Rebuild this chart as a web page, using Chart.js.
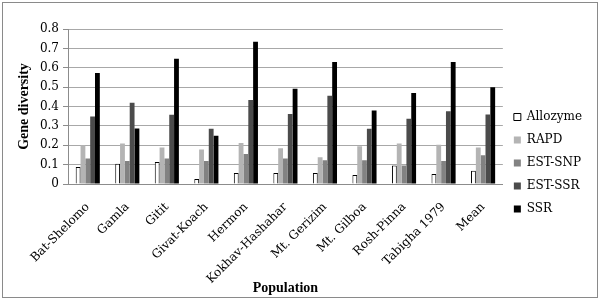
<!DOCTYPE html>
<html>
<head>
<meta charset="utf-8">
<script src="https://cdn.jsdelivr.net/npm/chart.js@4.4.1/dist/chart.umd.min.js"></script>
<style>
html,body{margin:0;padding:0;background:#fff;}
#wrap{position:absolute;left:0;top:0;width:600px;height:300px;}
#frame{position:absolute;left:2px;top:2px;width:594px;height:294px;border:1px solid #8a8a8a;pointer-events:none;}
</style>
</head>
<body>
<div id="wrap"><canvas id="c" width="600" height="300"></canvas></div>
<div id="frame"></div>
<script>
const categories = ["Bat-Shelomo","Gamla","Gitit","Givat-Koach","Hermon","Kokhav-Hashahar","Mt. Gerizim","Mt. Gilboa","Rosh-Pinna","Tabigha 1979","Mean"];
const allozyme = [0.088,0.104,0.114,0.026,0.057,0.057,0.057,0.047,0.095,0.052,0.069];
const rapd     = [0.200,0.209,0.188,0.178,0.212,0.185,0.138,0.195,0.209,0.202,0.188];
const estSnp   = [0.131,0.119,0.131,0.119,0.155,0.131,0.123,0.123,0.095,0.119,0.149];
const estSsr   = [0.349,0.420,0.357,0.285,0.434,0.361,0.456,0.285,0.337,0.375,0.359];
const ssr      = [0.573,0.287,0.646,0.249,0.734,0.492,0.630,0.380,0.470,0.630,0.499];
const yTickLabels = ["0","0.1","0.2","0.3","0.4","0.5","0.6","0.7","0.8"];

const tickFont = {family: "'DejaVu Serif', serif", size: 12};
const titleFont = {family: "'Liberation Serif', 'Times New Roman', serif", size: 14, weight: "bold"};

new Chart(document.getElementById("c"), {
  type: "bar",
  data: {
    labels: categories,
    datasets: [
      {label: "Allozyme", data: allozyme, backgroundColor: "#ffffff", borderColor: "#000000", borderWidth: 1},
      {label: "RAPD", data: rapd, backgroundColor: "#b4b4b4", borderWidth: 0},
      {label: "EST-SNP", data: estSnp, backgroundColor: "#828282", borderWidth: 0},
      {label: "EST-SSR", data: estSsr, backgroundColor: "#4b4b4b", borderWidth: 0},
      {label: "SSR", data: ssr, backgroundColor: "#000000", borderWidth: 0}
    ]
  },
  options: {
    responsive: false,
    animation: false,
    devicePixelRatio: 1,
    categoryPercentage: 0.61,
    barPercentage: 1.0,
    layout: {padding: {left: 8, right: 8, top: 29, bottom: 3}},
    plugins: {
      tooltip: {enabled: false},
      legend: {
        position: "right",
        labels: {
          boxWidth: 7, boxHeight: 7, padding: 11,
          color: "#000", font: tickFont
        }
      }
    },
    scales: {
      x: {
        grid: {display: true, drawOnChartArea: false, drawTicks: false, tickLength: 0},
        border: {display: true, color: "#8c8c8c", width: 1},
        ticks: {color: "#000", font: tickFont, minRotation: 45, maxRotation: 45, padding: 16, autoSkip: false},
        title: {display: true, text: "Population", color: "#000", font: titleFont, padding: {top: 0, bottom: 0}},
        afterFit: (s) => { s.height = 113; }
      },
      y: {
        min: 0, max: 0.8,
        grid: {color: "#a8a8a8", lineWidth: 1, drawTicks: true, tickLength: 5, tickColor: "#8c8c8c"},
        border: {display: true, color: "#8c8c8c", width: 1},
        ticks: {stepSize: 0.1, color: "#000", font: tickFont, padding: 4,
          callback: (v, i) => yTickLabels[i]},
        title: {display: true, text: "Gene diversity", color: "#000", font: titleFont, padding: {top: 8, bottom: 0}},
        afterFit: (s) => { s.width = 60; }
      }
    }
  }
});
</script>
</body>
</html>
